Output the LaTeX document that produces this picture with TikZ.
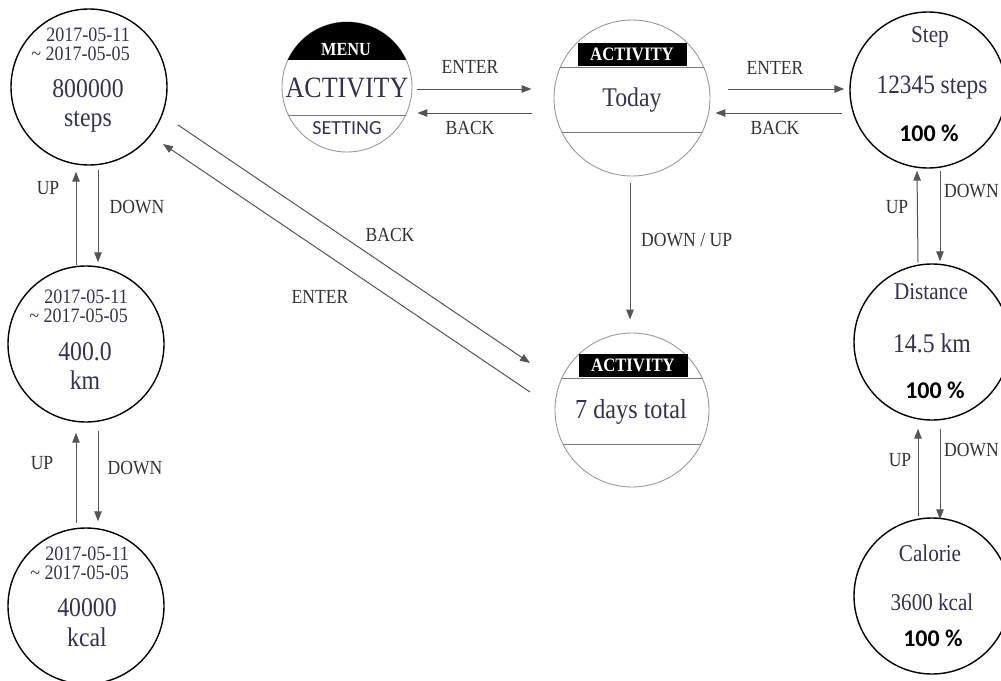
\documentclass[tikz,border=0pt]{standalone}
\usepackage{fontspec}
\setmainfont{Liberation Serif}[FakeStretch=0.88]
\newfontfamily\calib{Carlito}
\usetikzlibrary{arrows.meta,calc}
\definecolor{txt}{HTML}{33334F}
\definecolor{lab}{HTML}{333333}
\definecolor{arc}{HTML}{555555}
\definecolor{ring}{HTML}{9A9A9A}
\tikzset{
 blk/.style={circle,draw=black,line width=1.4pt,minimum size=156pt,inner sep=0pt},
 lite/.style={circle,draw=ring,line width=0.9pt,minimum size=#1,inner sep=0pt},
 chord/.style={draw=ring!80!black,line width=1pt},
 arr/.style={draw=arc,line width=1pt,-{Triangle[length=10pt,width=7.5pt]}},
 lbl/.style={text=lab,font=\fontsize{20}{22}\selectfont,inner sep=0pt},
 date/.style={text=txt,font=\fontsize{20.5}{19}\selectfont,align=right,inner sep=0pt},
 big/.style={text=txt,font=\fontsize{27}{28}\selectfont,inner sep=0pt},
 mid/.style={text=txt,font=\fontsize{24}{26}\selectfont,inner sep=0pt},
 pct/.style={text=black,font=\calib\bfseries\fontsize{24}{26}\selectfont,inner sep=0pt},
 tag/.style={fill=black,text=white,font=\bfseries\fontsize{19}{19}\selectfont,inner sep=0pt,minimum width=109pt,minimum height=23pt},
}
\begin{document}
\begin{tikzpicture}[x=1pt,y=-1pt]
\useasboundingbox[fill=white] (0,0) rectangle (1001,680);

% ---------- left column ----------
\node[blk] (l1) at (89,87) {};
\node[blk] (l2) at (86,344) {};
\node[blk] (l3) at (86,606) {};
\node[date,anchor=east] (l1d) at (130,44) {2017-05-11\\\textasciitilde\ 2017-05-05};
\node[big] (l1v) at (88,89) {800000};
\node[big] (l1u) at (88,122) {steps};
\node[date,anchor=east] (l2d) at (128,306) {2017-05-11\\\textasciitilde\ 2017-05-05};
\node[big] (l2v) at (85,352) {400.0};
\node[big] (l2u) at (85,380) {km};
\node[date,anchor=east] (l3d) at (129,563) {2017-05-11\\\textasciitilde\ 2017-05-05};
\node[big] (l3v) at (87,608) {40000};
\node[big] (l3u) at (87,637) {kcal};

\draw[arr] ($(l2.north)+(-10,0)$) -- ($(l1.south)+(-13,6)$);
\draw[arr] ($(l1.south)+(9,4)$) -- ($(l2.north)+(12,-3)$);
\node[lbl] (up1) at (48,188) {UP};
\node[lbl] (dn1) at (137,207) {DOWN};
\draw[arr] ($(l3.north)+(-10,-4)$) -- ($(l2.south)+(-10,10)$);
\draw[arr] ($(l2.south)+(12,8)$) -- ($(l3.north)+(12,-6)$);
\node[lbl] (up2) at (42,463) {UP};
\node[lbl] (dn2) at (135,468) {DOWN};

% ---------- menu ----------
\node[lite=130pt] (menu) at (347,87) {};
\begin{scope}
 \clip (menu.center) circle[radius=65];
 \fill[black] ($(menu.center)+(-70,-70)$) rectangle ($(menu.center)+(70,-27)$);
 \draw[chord] ($(menu.center)+(-70,28)$) -- ($(menu.center)+(70,28)$);
\end{scope}
\node[text=white,font=\bfseries\fontsize{18.5}{18}\selectfont,inner sep=0pt] (menut) at (346,50) {MENU};
\node[text=txt,font=\fontsize{29.5}{30}\selectfont,inner sep=0pt] (menua) at (347,88) {ACTIVITY};
\node[text=txt,font=\calib\fontsize{20}{21}\selectfont,inner sep=0pt] (menus) at (347,128) {SETTING};

% ---------- today ----------
\node[lite=156pt] (today) at (632,98) {};
\begin{scope}
 \clip (today.center) circle[radius=78];
 \draw[chord] ($(today.center)+(-80,-31)$) -- ($(today.center)+(80,-31)$);
 \draw[chord] ($(today.center)+(-80,34)$) -- ($(today.center)+(80,34)$);
\end{scope}
\node[tag] (todaytag) at (632,54) {ACTIVITY};
\node[text=txt,font=\fontsize{27}{28}\selectfont,inner sep=0pt] (todayt) at (632,100) {Today};

% ---------- 7 days ----------
\node[lite=154pt] (week) at (632,410) {};
\begin{scope}
 \clip (week.center) circle[radius=77];
 \draw[chord] ($(week.center)+(-80,-32)$) -- ($(week.center)+(80,-32)$);
 \draw[chord] ($(week.center)+(-80,34)$) -- ($(week.center)+(80,34)$);
\end{scope}
\node[tag] (weektag) at (633,365) {ACTIVITY};
\node[text=txt,font=\fontsize{27.5}{28}\selectfont,inner sep=0pt] (weekt) at (631,412) {7 days total};

% ---------- right column ----------
\node[blk] (r1) at (928,90) {};
\node[blk] (r2) at (932,342) {};
\node[blk] (r3) at (932,596) {};
\node[mid] (r1a) at (930,37) {Step};
\node[text=txt,font=\fontsize{26.5}{28}\selectfont,inner sep=0pt] (r1b) at (932,88) {12345 steps};
\node[pct] (r1c) at (929,133) {100 \%};
\node[mid] (r2a) at (931,292) {Distance};
\node[big] (r2b) at (932,343) {14.5 km};
\node[pct] (r2c) at (935,390) {100 \%};
\node[mid] (r3a) at (930,553) {Calorie};
\node[mid] (r3b) at (932,602) {3600 kcal};
\node[pct] (r3c) at (933,638) {100 \%};

\draw[arr] ($(r2.north)+(-14,-1)$) -- ($(r1.south)+(-11,2)$);
\draw[arr] ($(r1.south)+(12,2)$) -- ($(r2.north)+(8,-2)$);
\node[lbl] (up3) at (897,207) {UP};
\node[lbl,anchor=east] (dn3) at (999,191) {DOWN};
\draw[arr] ($(r3.north)+(-14,-1)$) -- ($(r2.south)+(-14,8)$);
\draw[arr] ($(r2.south)+(8,8)$) -- ($(r3.north)+(8,2)$);
\node[lbl] (up4) at (900,460) {UP};
\node[lbl,anchor=east] (dn4) at (999,450) {DOWN};

% ---------- horizontal arrows ----------
\draw[arr] ($(menu.east)+(5,2)$) -- ($(today.west)+(-22,-9)$);
\draw[arr] ($(today.west)+(-22,15)$) -- ($(menu.east)+(5,26)$);
\node[lbl] (ent1) at (470,67) {ENTER};
\node[lbl] (bk1) at (470,128) {BACK};
\draw[arr] ($(today.east)+(18,-9)$) -- ($(r1.west)+(-5,-1)$);
\draw[arr] ($(r1.west)+(-7,23)$) -- ($(today.east)+(5,15)$);
\node[lbl] (ent2) at (775,68) {ENTER};
\node[lbl] (bk2) at (775,128) {BACK};

% ---------- vertical middle ----------
\draw[arr] ($(today.south)+(-2,7)$) -- ($(week.north)+(-2,-13)$);
\node[lbl,anchor=west] (dnup) at (641,240) {DOWN / UP};

% ---------- diagonals ----------
\draw[arr] ($(l1.center)+(89,38)$) -- ($(week.center)+(-102,-47)$);
\draw[arr] ($(week.center)+(-102,-18)$) -- ($(l1.center)+(74,57)$);
\node[lbl] (bk3) at (390,235) {BACK};
\node[lbl] (ent3) at (320,297) {ENTER};
\end{tikzpicture}
\end{document}
